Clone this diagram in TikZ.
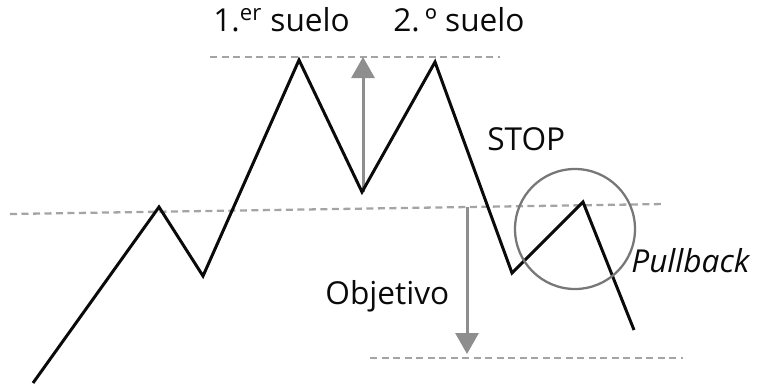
\documentclass[tikz,border=0pt]{standalone}
\usepackage{fontspec}
\setmainfont{Open Sans}
\usepackage{tikz}
\usetikzlibrary{arrows.meta,positioning,calc}
\definecolor{priceblack}{HTML}{0A0A0A}
\definecolor{levelgrey}{HTML}{A4A4A4}
\definecolor{movegrey}{HTML}{8E8E8E}
\definecolor{ringgrey}{HTML}{777777}
\tikzset{
  price/.style={draw=priceblack, line width=1.7pt, line join=miter},
  level/.style={draw=levelgrey, line width=1.3pt, dash pattern=on 1.4mm off 0.9mm},
  move/.style={-{Triangle[length=4.2mm,width=4.6mm]}, draw=movegrey, fill=movegrey,
               line width=1.7pt},
  ring/.style={draw=ringgrey, line width=1.3pt},
  lbl/.style={font=\fontsize{18}{21}\selectfont, inner sep=0pt, text=priceblack},
}

\begin{document}
\begin{tikzpicture}[x=0.2mm, y=-0.2mm]
\useasboundingbox (0,0) rectangle (762,383);

% ---------- the price path ----------------------------------------------
\coordinate (p0) at (33,383);
\coordinate (p1) at (159,207);
\coordinate (p2) at (203,276);
\coordinate (p3) at (299,60);
\coordinate (p4) at (362,192);
\coordinate (p5) at (435,62);
\coordinate (p6) at (512,273);
\coordinate (p7) at (583,202);
\coordinate (p8) at (634,330);

% ---------- levels -------------------------------------------------------
\coordinate (topL) at (210,57);   \coordinate (topR) at (500,57);
\coordinate (neckL) at (10,214);  \coordinate (neckR) at (665,204);
\coordinate (tgtL) at (370,358);  \coordinate (tgtR) at (683,358);
\draw[level] (topL) -- (topR);
\draw[level] (neckL) -- (neckR);
\draw[level] (tgtL) -- (tgtR);

% ---------- measured moves ----------------------------------------------
\coordinate (upfrom) at (363,192); \coordinate (upto) at (363,57);
\coordinate (dnfrom) at (467,207); \coordinate (dnto) at (467,354);
\draw[move] (upfrom) -- (upto);
\draw[move] (dnfrom) -- (dnto);

\draw[price] (p0) -- (p1) -- (p2) -- (p3) -- (p4) -- (p5) -- (p6) -- (p7) -- (p8);

% ---------- pullback ring -----------------------------------------------
\node[ring, circle, minimum size=24mm, inner sep=0pt] (pb) at (575,229) {};

% ---------- labels -------------------------------------------------------
\node[lbl, anchor=west] (first) at (213,20) {1.\textsuperscript{er} suelo};
\node[lbl, anchor=west] (second) at (393,20) {2.\,º suelo};
\node[lbl, anchor=west] (stop) at (487,139) {STOP};
\node[lbl, anchor=west, font=\fontsize{18}{21}\selectfont\itshape] (pull) at (631,261) {Pullback};
\node[lbl, anchor=west] (goal) at (325,296) {Objetivo};
\end{tikzpicture}
\end{document}
